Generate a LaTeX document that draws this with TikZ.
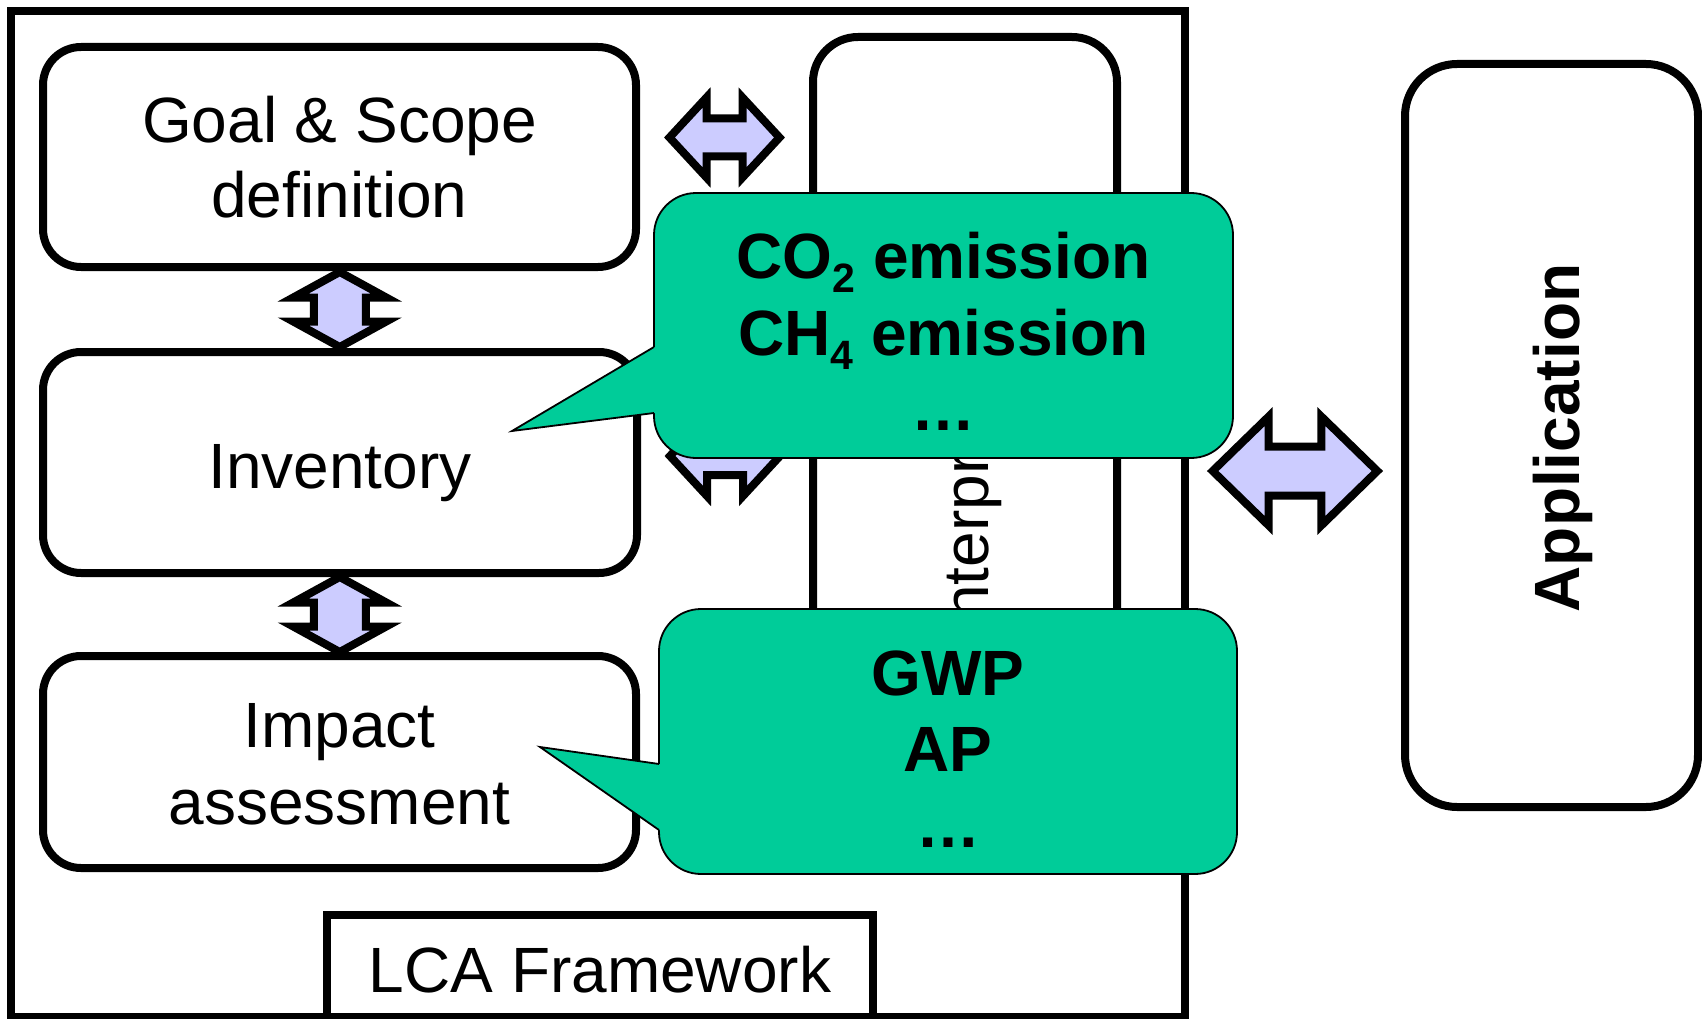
\documentclass[tikz,border=0pt]{standalone}
\usepackage{fontspec}
\setmainfont{Liberation Sans}
\usetikzlibrary{calc}

\definecolor{lilac}{HTML}{CCCCFF}
\definecolor{bubblegreen}{HTML}{00CC99}

% lowered index for chemical formulas
\newcommand\lowidx[1]{\raisebox{-14.5pt}{\fontsize{41}{41}\selectfont #1}}

\tikzset{
  % double-headed block arrow: total length / head length / head half-width / shaft half-width
  pics/dbl/.style args={#1/#2/#3/#4}{code={
    \filldraw[blockarrow]
      ({-#1/2},0) -- ({-#1/2+#2},#3) -- ({-#1/2+#2},#4) -- ({#1/2-#2},#4)
      -- ({#1/2-#2},#3) -- ({#1/2},0) -- ({#1/2-#2},{-#3}) -- ({#1/2-#2},{-#4})
      -- ({-#1/2+#2},{-#4}) -- ({-#1/2+#2},{-#3}) -- cycle;
  }}
}

\begin{document}
\begin{tikzpicture}[x=1pt,y=-1pt,
  stage/.style={rectangle, draw=black, line width=8pt, fill=white, inner sep=0pt, rounded corners=38pt},
  framebox/.style={rectangle, draw=black, line width=8pt, inner sep=0pt},
  bubble/.style={rectangle, draw=black, line width=1.8pt, fill=bubblegreen, inner sep=0pt,
    rounded corners=42pt, minimum height=265pt},
  tail/.style={draw=black, line width=1.8pt},
  txt/.style={inner sep=0pt, anchor=base, font=\fontsize{64}{76}\selectfont},
  btxt/.style={inner sep=0pt, anchor=base, font=\fontsize{64}{76}\selectfont\bfseries},
  blockarrow/.style={draw=black, fill=lilac, line width=8pt},
]
\fill[white] (0,0) rectangle (1702,1019);
\useasboundingbox (0,0) rectangle (1702,1019);

% LCA framework and its stages
\node[framebox, minimum width=1174pt, minimum height=1006pt] (frame) at (598,514) {};
\node[stage, minimum width=593pt, minimum height=220pt] (goal) at (339.5,157) {};
\node[stage, minimum width=594pt, minimum height=221pt] (inv) at (340,462.5) {};
\node[stage, minimum width=593pt, minimum height=212pt] (imp) at (339.5,762) {};
\node[framebox, fill=white, minimum width=546pt, minimum height=102pt] (lca) at (600,966) {};
\node[stage, rounded corners=45pt, minimum width=304pt, minimum height=825pt] (interp) at (965,449.5) {};
\node[stage, rounded corners=52pt, minimum width=293pt, minimum height=743pt] (app) at (1551.5,435.5) {};

\node[txt] (goal1) at (339.5,143) {Goal \& Scope};
\node[txt] (goal2) at (339.5,218) {definition};
\node[txt] (invt) at (340,488) {Inventory};
\node[txt] (imp1) at (339.5,747) {Impact};
\node[txt] (imp2) at (339.5,824) {assessment};
\node[txt] (lcat) at (600,992) {LCA Framework};
\node[txt, rotate=90] (interpt) at (988,450) {Interpretation};
\node[btxt, rotate=90] (appt) at (1579,438) {Application};

% links between the stages
\pic[rotate=90] at ($(goal.south)!.5!(inv.north)$) {dbl=75/25.5/46.5/26};
\pic[rotate=90] at ($(inv.south)!.5!(imp.north)$) {dbl=75/25.5/46.5/26};
\pic at ($(goal.east)!.5!(goal.east -| interp.west)+(0,-19.5)$) {dbl=110/37/40/19};
\pic at ($(inv.east)!.5!(inv.east -| interp.west)+(0,-6.5)$) {dbl=110/37/40/19};

% inventory callout
\node[bubble, minimum width=579pt] (co2) at (943.5,325.5) {};
\coordinate (co2tip) at (512,431);
\coordinate (co2b1) at (654,347);
\coordinate (co2b2) at (654,413);
\fill[bubblegreen] (co2tip) -- (co2b1) -- ([xshift=5pt]co2b1) -- ([xshift=5pt]co2b2) -- (co2b2) -- cycle;
\draw[tail] (co2b1) -- (co2tip) -- (co2b2);
\node[btxt] (co2l1) at (943.5,278) {CO\lowidx{2} emission};
\node[btxt] (co2l2) at (943.5,355) {CH\lowidx{4} emission};
\node[btxt] (co2l3) at (943.5,430) {…};

% impact callout
\node[bubble, minimum width=578pt] (gwp) at (948,741.5) {};
\coordinate (gwptip) at (540,747);
\coordinate (gwpb1) at (659,764);
\coordinate (gwpb2) at (659,830);
\fill[bubblegreen] (gwptip) -- (gwpb1) -- ([xshift=5pt]gwpb1) -- ([xshift=5pt]gwpb2) -- (gwpb2) -- cycle;
\draw[tail] (gwpb1) -- (gwptip) -- (gwpb2);
\node[btxt] (gwpl1) at (948,695) {GWP};
\node[btxt] (gwpl2) at (948,771) {AP};
\node[btxt] (gwpl3) at (948,847) {…};

% link from the framework to its application
\pic at ($(frame.east)!.5!(frame.east -| app.west)+(0,-43)$) {dbl=164.6/56/54.5/24.5};
\end{tikzpicture}
\end{document}
